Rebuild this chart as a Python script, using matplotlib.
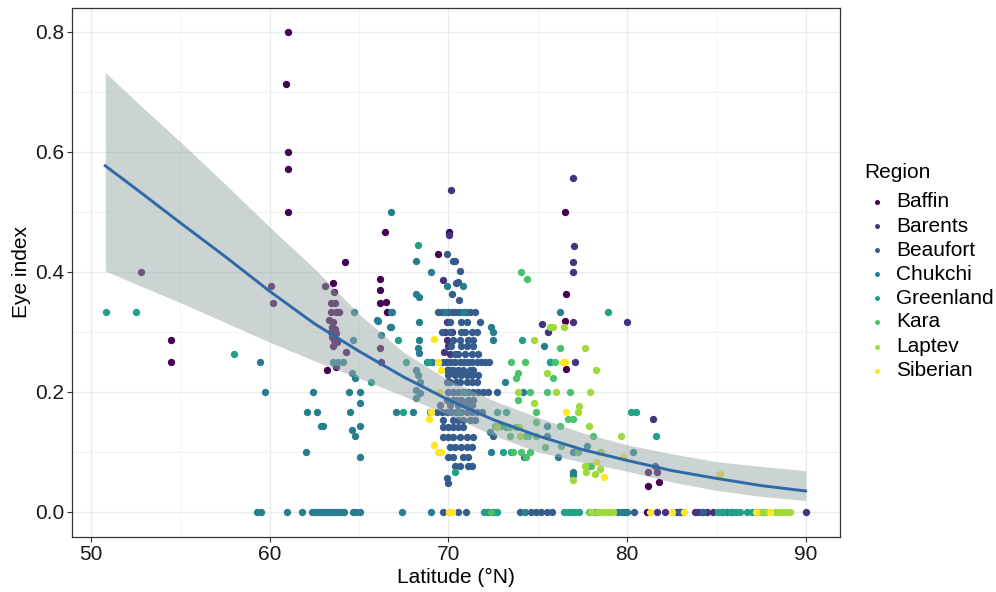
import matplotlib
matplotlib.use("Agg")
import matplotlib.pyplot as plt
from matplotlib.lines import Line2D

plt.rcParams["font.family"] = ["Liberation Sans", "DejaVu Sans"]

regions = ["Baffin", "Barents", "Beaufort", "Chukchi", "Greenland", "Kara", "Laptev", "Siberian"]
colors = ["#440154", "#46337E", "#365C8D", "#277F8E", "#1FA187", "#4AC16D", "#9FDA3A", "#FDE725"]

# ---- points: latitude (deg N) and eye index per region ----
baffin_lat = [61.0, 60.9, 61.0, 61.0, 61.0, 52.8, 54.5, 54.5, 60.07, 60.2,
              63.1, 63.56, 63.6, 63.46, 63.65, 63.46, 63.74, 63.9,
              63.3, 63.55, 63.5, 63.65, 63.7, 63.5, 63.6, 63.45, 63.75, 63.55,
              64.3, 63.7, 63.23, 64.2,
              66.17, 66.17, 66.17, 66.54, 66.58, 66.17, 66.26, 66.45,
              69.43, 70.04, 76.55, 76.61, 76.52, 76.61,
              81.2, 81.2, 81.7, 81.8, 81.1, 87.2]
baffin_eye = [0.80, 0.714, 0.60, 0.571, 0.50, 0.40, 0.286, 0.25, 0.377, 0.349,
              0.377, 0.381, 0.367, 0.348, 0.349, 0.334, 0.334, 0.334,
              0.32, 0.316, 0.309, 0.305, 0.298, 0.292, 0.287, 0.30, 0.283, 0.276,
              0.267, 0.241, 0.237, 0.417,
              0.389, 0.37, 0.348, 0.35, 0.334, 0.273, 0.25, 0.467,
              0.43, 0.467, 0.50, 0.364, 0.319, 0.238,
              0.043, 0.067, 0.067, 0.05, 0.0, 0.0]

barents_lat = [70.14, 70.05, 69.7, 76.98, 77.04, 76.98, 76.98, 75.25, 75.6, 76.98,
               80.0, 77.1, 81.45, 81.55,
               69.8, 69.9, 70.0, 69.75, 70.1, 69.9, 70.2, 69.95, 70.05,
               81.7, 82.1, 82.8, 83.0, 83.8, 84.0, 84.2, 84.5, 84.8, 90.0]
barents_eye = [0.537, 0.462, 0.387, 0.556, 0.444, 0.417, 0.40, 0.313, 0.30, 0.317,
               0.317, 0.25, 0.155, 0.077,
               0.30, 0.287, 0.276, 0.267, 0.264, 0.25, 0.30, 0.317, 0.237,
               0.0, 0.0, 0.0, 0.0, 0.0, 0.0, 0.0, 0.0, 0.0, 0.0]

beaufort_lat = [70.27, 70.36, 69.9, 70.64, 70.45, 70.55, 70.18, 70.6,
                69.43, 69.62, 70.0, 70.2, 70.4, 70.6, 71.0, 71.2, 71.5,
                70.08, 70.73, 71.02, 71.76,
                69.62, 70.08, 70.73, 70.92, 71.3, 71.58,
                70.27, 70.64, 71.11, 71.39,
                70.17, 70.73, 71.02, 71.39,
                70.36, 70.55, 70.92, 71.3, 71.67,
                69.71, 69.95, 70.17, 70.4, 70.64, 70.85, 71.1, 71.35, 71.58, 71.82, 72.04, 72.29,
                69.9, 70.27, 70.55, 70.83, 71.2, 71.39,
                69.99, 70.36, 70.73, 71.02, 71.3, 71.67,
                69.9, 70.08, 70.45, 70.64, 71.02, 71.3, 71.58,
                69.99, 70.27, 70.55, 70.83, 71.11, 71.39, 71.67, 71.95, 72.23, 72.7,
                69.9, 70.27, 70.45, 70.73, 71.11, 71.39,
                69.53, 70.08, 70.55, 70.92, 71.3,
                69.34, 69.62, 69.9, 70.17, 70.45, 70.73, 71.02, 71.3, 71.58, 71.86,
                69.71, 70.27, 70.55, 70.83, 71.2, 71.48,
                69.71, 69.99, 70.27, 70.55, 70.83,
                69.71, 69.99, 70.27, 70.64, 71.02, 71.39, 72.5,
                70.08, 70.36, 70.73, 71.02, 71.3,
                69.99, 70.27, 70.83, 71.11,
                70.36, 70.64, 71.11, 71.3,
                69.9, 70.0,
                69.7, 70.55, 71.0, 74.0, 74.6, 74.9, 75.2, 75.5, 75.8, 79.9, 80.4, 82.9, 84.25]
beaufort_eye = [0.418, 0.418, 0.43, 0.402, 0.381, 0.384, 0.364, 0.353,
                0.334, 0.334, 0.334, 0.334, 0.334, 0.334, 0.334, 0.334, 0.334,
                0.317, 0.317, 0.317, 0.317,
                0.30, 0.30, 0.30, 0.30, 0.30, 0.30,
                0.287, 0.287, 0.287, 0.287,
                0.276, 0.276, 0.276, 0.276,
                0.264, 0.264, 0.264, 0.264, 0.264,
                0.25, 0.25, 0.25, 0.25, 0.25, 0.25, 0.25, 0.25, 0.25, 0.25, 0.25, 0.25,
                0.237, 0.237, 0.237, 0.237, 0.237, 0.237,
                0.228, 0.228, 0.228, 0.228, 0.228, 0.228,
                0.217, 0.217, 0.217, 0.217, 0.217, 0.217, 0.217,
                0.20, 0.20, 0.20, 0.20, 0.20, 0.20, 0.20, 0.20, 0.20, 0.20,
                0.187, 0.187, 0.187, 0.187, 0.187, 0.187,
                0.178, 0.178, 0.178, 0.178, 0.178,
                0.167, 0.167, 0.167, 0.167, 0.167, 0.167, 0.167, 0.167, 0.167, 0.167,
                0.153, 0.153, 0.153, 0.153, 0.153, 0.153,
                0.142, 0.142, 0.142, 0.142, 0.142,
                0.125, 0.125, 0.125, 0.125, 0.125, 0.125, 0.126,
                0.109, 0.109, 0.109, 0.109, 0.109,
                0.092, 0.092, 0.092, 0.092,
                0.076, 0.076, 0.076, 0.076,
                0.056, 0.049,
                0.0, 0.0, 0.0, 0.0, 0.0, 0.0, 0.0, 0.0, 0.0, 0.0, 0.0, 0.0, 0.0]

chukchi_lat = [59.45, 59.73, 62.43, 62.1, 62.67, 62.9, 63.0, 62.06, 64.43, 65.04,
               64.5, 65.04, 64.6, 64.77, 65.04, 65.04, 64.73, 66.08, 66.76, 66.26,
               64.67, 63.55, 63.83, 64.1, 64.6, 64.8, 66.78, 68.2, 69.05, 68.2,
               68.37, 66.78, 66.87, 66.0, 66.78, 68.37, 68.37, 68.3, 68.37, 68.2,
               68.3, 68.4, 68.2, 68.4, 67.1, 68.0, 68.18, 68.78, 69.1, 69.8,
               70.8, 70.9, 69.9, 70.83, 72.38, 72.5, 72.5, 73.16, 74.2, 75.36,
               76.24, 75.68, 75.55, 75.55, 77.76, 74.22, 76.14, 76.98, 80.34, 76.98,
               76.98, 72.32, 72.4, 70.6, 70.9,
               59.3, 59.5, 60.95, 61.8, 62.35, 62.5, 62.65, 62.8, 62.95, 63.1,
               63.25, 63.4, 63.55, 63.7, 63.85, 64.0, 64.15, 64.65, 64.85, 65.05,
               67.4, 69.05, 72.2, 72.5, 74.3, 79.5, 79.7, 80.0, 85.3, 85.6, 85.9]
chukchi_eye = [0.25, 0.20, 0.20, 0.167, 0.167, 0.143, 0.143, 0.10, 0.20, 0.20,
               0.167, 0.182, 0.137, 0.126, 0.143, 0.091, 0.333, 0.319, 0.309, 0.295,
               0.287, 0.25, 0.25, 0.25, 0.232, 0.223, 0.50, 0.418, 0.40, 0.364,
               0.359, 0.334, 0.334, 0.32, 0.309, 0.317, 0.287, 0.273, 0.265, 0.237,
               0.228, 0.217, 0.203, 0.198, 0.167, 0.167, 0.19, 0.25, 0.25, 0.334,
               0.334, 0.334, 0.376, 0.376, 0.309, 0.30, 0.287, 0.216, 0.20, 0.276,
               0.334, 0.25, 0.143, 0.126, 0.11, 0.091, 0.091, 0.10, 0.10, 0.067,
               0.062, 0.134, 0.10, 0.167, 0.20,
               0.0, 0.0, 0.0, 0.0, 0.0, 0.0, 0.0, 0.0, 0.0, 0.0,
               0.0, 0.0, 0.0, 0.0, 0.0, 0.0, 0.0, 0.0, 0.0, 0.0,
               0.0, 0.0, 0.0, 0.0, 0.0, 0.0, 0.0, 0.0, 0.0, 0.0, 0.0]

greenland_lat = [50.84, 52.5, 58.0, 65.65, 67.65, 67.19, 67.47, 68.3, 69.0, 70.36,
                 68.87, 73.53, 72.7, 73.25, 73.25, 74.15, 78.94, 80.24, 80.5, 81.6,
                 72.9, 73.07, 75.7,
                 72.0, 72.7, 76.5, 76.7, 76.9, 77.1, 77.3, 85.1, 85.4, 85.8, 86.1, 86.3, 86.7, 87.0]
greenland_eye = [0.334, 0.334, 0.264, 0.216, 0.25, 0.287, 0.167, 0.445, 0.167, 0.066,
                 0.25, 0.10, 0.167, 0.167, 0.142, 0.287, 0.334, 0.167, 0.167, 0.126,
                 0.143, 0.10, 0.25,
                 0.0, 0.0, 0.0, 0.0, 0.0, 0.0, 0.0, 0.0, 0.0, 0.0, 0.0, 0.0, 0.0, 0.0]

kara_lat = [74.06, 74.41, 76.27, 73.5, 74.28, 75.96, 73.9, 73.8, 75.86, 74.56,
            75.5, 76.8, 73.9, 74.9, 76.7, 76.98, 74.9, 76.24, 73.48, 74.37,
            78.1, 76.3, 74.05, 74.56, 77.25, 78.0, 72.6, 73.4, 73.8, 73.6,
            74.47, 74.9, 75.4, 77.9, 74.37,
            72.4, 77.9, 78.2, 87.6]
kara_eye = [0.40, 0.389, 0.273, 0.25, 0.25, 0.25, 0.231, 0.223, 0.223, 0.20,
            0.20, 0.20, 0.186, 0.167, 0.155, 0.155, 0.15, 0.143, 0.126, 0.126,
            0.126, 0.11, 0.10, 0.10, 0.10, 0.077, 0.143, 0.142, 0.142, 0.10,
            0.126, 0.126, 0.109, 0.076, 0.092,
            0.0, 0.0, 0.0, 0.0]

laptev_lat = [75.68, 75.86, 76.47, 74.78, 77.64, 78.29, 75.5, 73.9, 76.0, 77.95,
              74.8, 77.3, 77.25, 77.88, 73.96, 74.0, 79.68, 78.47, 77.64, 78.47,
              77.7, 76.98, 78.57, 78.2, 72.7,
              78.0, 78.4, 78.8, 79.0, 79.2, 78.6, 87.5, 87.8, 88.3, 88.5, 88.7, 88.9, 89.1]
laptev_eye = [0.308, 0.308, 0.308, 0.287, 0.273, 0.236, 0.231, 0.20, 0.20, 0.20,
              0.182, 0.177, 0.166, 0.143, 0.142, 0.126, 0.126, 0.10, 0.077, 0.071,
              0.067, 0.054, 0.10, 0.064, 0.142,
              0.0, 0.0, 0.0, 0.0, 0.0, 0.0, 0.0, 0.0, 0.0, 0.0, 0.0, 0.0, 0.0]

siberian_lat = [69.2, 69.43, 69.6, 69.5, 69.05, 68.93, 69.2, 69.43, 69.6, 76.42,
                76.52, 76.57, 79.78, 78.25, 78.7, 85.2,
                70.04, 70.2, 81.3, 82.5, 83.2, 87.2, 88.0]
siberian_eye = [0.288, 0.25, 0.236, 0.20, 0.167, 0.155, 0.112, 0.10, 0.10, 0.25,
                0.25, 0.167, 0.091, 0.084, 0.059, 0.063,
                0.0, 0.0, 0.0, 0.0, 0.0, 0.0, 0.0]

# ---- fitted curve and confidence band ----
fit_lat = [50.8, 52.5, 55, 57.5, 60, 62.5, 65, 67.5, 70, 72.5, 75, 77.5, 80, 82.5, 85, 87.5, 90]
fit_mid = [0.577, 0.539, 0.482, 0.426, 0.368, 0.314, 0.268, 0.225, 0.187, 0.154,
           0.127, 0.104, 0.086, 0.069, 0.056, 0.044, 0.035]
fit_lo = [0.402, 0.380, 0.349, 0.316, 0.283, 0.252, 0.223, 0.193, 0.162, 0.128,
          0.100, 0.083, 0.068, 0.050, 0.036, 0.026, 0.019]
fit_hi = [0.733, 0.685, 0.617, 0.547, 0.475, 0.406, 0.330, 0.266, 0.220, 0.186,
          0.158, 0.132, 0.112, 0.097, 0.084, 0.076, 0.069]

x_ticks = [50, 60, 70, 80, 90]
y_ticks = [0.0, 0.2, 0.4, 0.6, 0.8]

series = [
    (baffin_lat, baffin_eye), (barents_lat, barents_eye), (beaufort_lat, beaufort_eye),
    (chukchi_lat, chukchi_eye), (greenland_lat, greenland_eye), (kara_lat, kara_eye),
    (laptev_lat, laptev_eye), (siberian_lat, siberian_eye),
]

FS = 15

fig = plt.figure(figsize=(9.96, 5.92), dpi=100)
ax = fig.add_axes([0.0723, 0.0929, 0.7707, 0.8936])

for (lat, eye), c in zip(series, colors):
    ax.scatter(lat, eye, s=28, color=c, linewidths=0, zorder=3)

# band sits on top of the points, as in the original
ax.fill_between(fit_lat, fit_lo, fit_hi, color="#9aa8a8", alpha=0.5, linewidth=0, zorder=4)
ax.plot(fit_lat, fit_mid, color="#2e69a8", linewidth=2.1, zorder=5)

ax.set_xlim(48.94, 91.9)
ax.set_ylim(-0.0417, 0.84)
ax.set_xticks(x_ticks)
ax.set_yticks(y_ticks)
ax.set_yticklabels([f"{v:.1f}" for v in y_ticks])
ax.set_xticks([55, 65, 75, 85], minor=True)
ax.set_yticks([0.1, 0.3, 0.5, 0.7], minor=True)
ax.grid(which="major", color="#e6ebeb", linewidth=1.0, zorder=0)
ax.grid(which="minor", color="#f0f3f3", linewidth=0.6, zorder=0)
ax.set_axisbelow(True)
ax.tick_params(which="major", length=3.5, width=0.8, color="#333333", labelsize=FS,
               labelcolor="#1a1a1a", pad=2)
ax.tick_params(which="minor", length=0)
for sp in ax.spines.values():
    sp.set_color("#333333")
    sp.set_linewidth(0.9)

ax.set_xlabel("Latitude (°N)", fontsize=FS, labelpad=3)
ax.set_ylabel("Eye index", fontsize=FS, labelpad=3)

# legend, laid out by hand to sit where the original puts it
W, H = 996, 592
fig.text(864 / W, 1 - 173 / H, "Region", fontsize=FS, va="center", ha="left")
key_y = [201.7, 226, 250, 274, 298, 321.7, 346.7, 370.7]
for name, c, ky in zip(regions, colors, key_y):
    fig.add_artist(Line2D([876.5 / W], [1 - ky / H], marker="o", linestyle="",
                          markersize=3.6, markerfacecolor=c, markeredgewidth=0,
                          transform=fig.transFigure))
    fig.text(896 / W, 1 - ky / H, name, fontsize=FS, va="center", ha="left")

fig.savefig("out.png", dpi=100)
